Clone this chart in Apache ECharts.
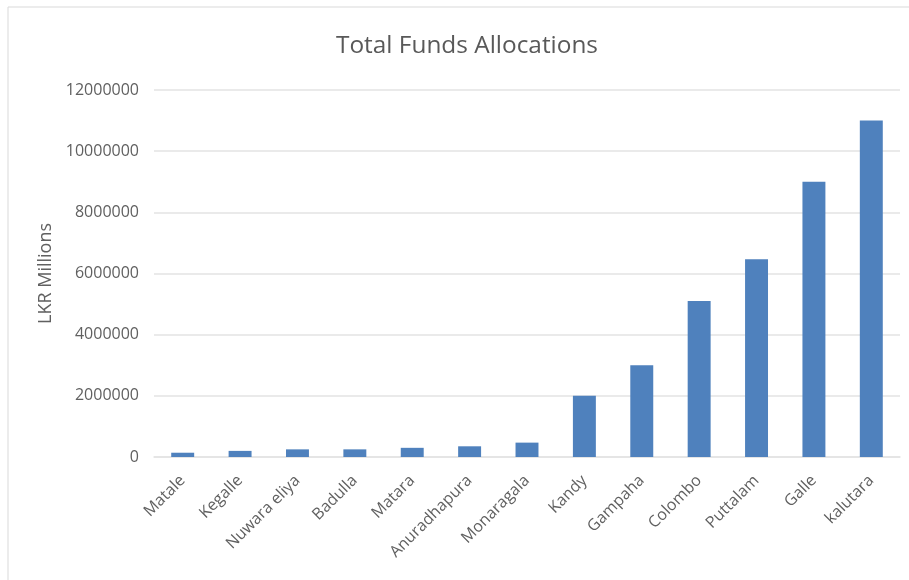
<!DOCTYPE html>
<html>
<head>
<meta charset="utf-8">
<script src="https://cdn.jsdelivr.net/npm/echarts@6/dist/echarts.min.js"></script>
<style>
  html, body { margin: 0; padding: 0; background: #fff; }
  #main { width: 909px; height: 580px; }
</style>
</head>
<body>
<div id="main"></div>
<script>
// 地区
var districts = ['Matale', 'Kegalle', 'Nuwara eliya', 'Badulla', 'Matara', 'Anuradhapura',
    'Monaragala', 'Kandy', 'Gampaha', 'Colombo', 'Puttalam', 'Galle', 'kalutara'];
// 拨款 (LKR Millions)
var funds = [140000, 200000, 250000, 250000, 300000, 350000,
    470000, 2000000, 3000000, 5100000, 6470000, 9000000, 11000000];

var chart = echarts.init(document.getElementById('main'));
var font = '"Open Sans", "Liberation Sans", sans-serif';

var option = {
    backgroundColor: '#fff',
    animation: false,
    graphic: [{
        type: 'rect',
        shape: { x: 8, y: 7, width: 920, height: 600 },
        style: { fill: 'none', stroke: '#d9d9d9', lineWidth: 1 }
    }],
    title: {
        text: 'Total Funds Allocations',
        left: 462,
        top: 29,
        textAlign: 'center',
        textStyle: { color: '#595959', fontSize: 24.4, fontWeight: 'normal', fontFamily: font }
    },
    grid: { left: 154, right: 9, top: 90, bottom: 123 },
    xAxis: {
        type: 'category',
        data: districts,
        axisLine: { lineStyle: { color: '#e3e3e3', width: 1.5 } },
        axisTick: { show: false },
        axisLabel: {
            rotate: 45,
            interval: 0,
            color: '#606060',
            fontSize: 16,
            fontFamily: font,
            margin: 21
        }
    },
    yAxis: {
        type: 'value',
        min: 0,
        max: 12000000,
        interval: 2000000,
        name: 'LKR Millions',
        nameLocation: 'middle',
        nameGap: 95,
        nameTextStyle: { color: '#606060', fontSize: 18, fontFamily: font },
        axisLine: { show: false },
        axisTick: { show: false },
        splitLine: { lineStyle: { color: '#e3e3e3', width: 1.5 } },
        axisLabel: {
            color: '#606060',
            fontSize: 16,
            fontFamily: font,
            margin: 15,
            formatter: function (v) { return String(v); }
        }
    },
    series: [{
        type: 'bar',
        data: funds,
        barWidth: '40%',
        itemStyle: { color: '#4f81bd' }
    }]
};

chart.setOption(option);
</script>
</body>
</html>
